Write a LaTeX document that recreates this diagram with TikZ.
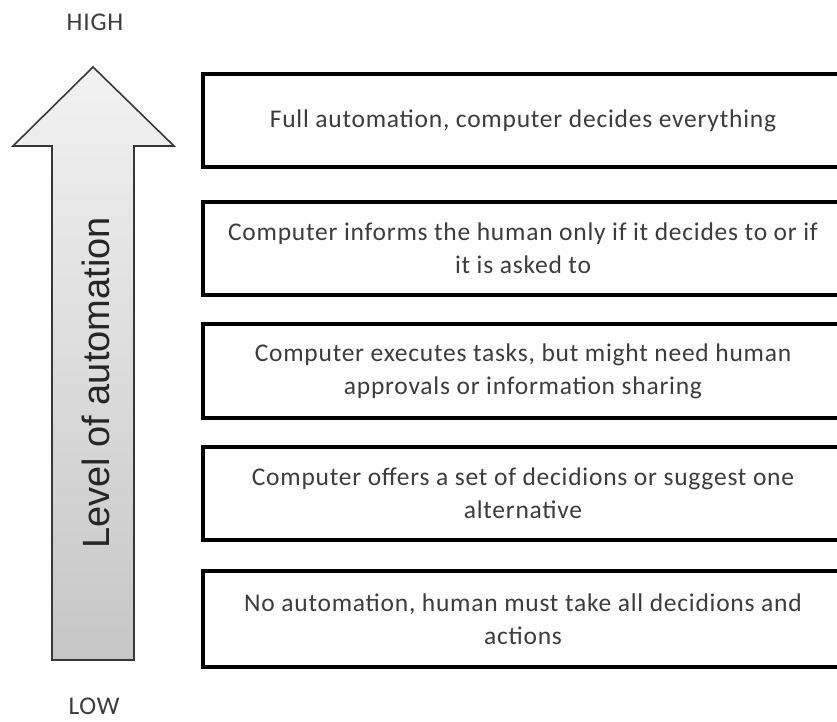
\documentclass[tikz,border=0pt]{standalone}
\usepackage{fontspec}
\setmainfont[LetterSpace=3]{Carlito}
\newfontfamily\arialfont{Liberation Sans}
\usetikzlibrary{positioning}
\definecolor{textgray}{RGB}{60,60,60}
\definecolor{arrowtop}{RGB}{242,242,242}
\definecolor{arrowbottom}{RGB}{198,198,198}
\definecolor{outline}{RGB}{55,55,55}

\begin{document}
\begin{tikzpicture}[x=1pt, y=-1pt,
      level/.style={rectangle, draw=black, line width=4pt, fill=white, minimum width=640pt, minimum height=93pt, anchor=north west, align=center, text=textgray, font=\fontsize{25.5}{33}\selectfont},
      tag/.style={text=textgray, font=\fontsize{25.5}{30}\selectfont}
   ]
      \useasboundingbox (0,0) rectangle (837,722);
      \clip (0,0) rectangle (837,722);

      % Big arrow, light at the top, darker at the bottom
      \shade[top color=arrowtop, bottom color=arrowbottom, draw=outline, line width=1.6pt, line join=miter]
         (93,67) -- (174,146) -- (134,146) -- (134,660) -- (52,660) -- (52,146) -- (13,146) -- cycle;
      \node (axis) [rotate=90, text=black!85, font=\arialfont\fontsize{38}{38}\selectfont] at (96,383) {Level of automation};

      % Ends of the scale
      \node (high) [tag] at (95,22)  {HIGH};
      \node (low)  [tag] at (94,706) {LOW};

      % Levels, top to bottom (right side runs off the page)
      \node (full)     [level] at (201,72) {Full automation, computer decides everything};
      \node (informs)  [level] at (201,200) {Computer informs the human only if it decides to or if\\it is asked to};
      \node (executes) [level, minimum height=94pt] at (201,322) {Computer executes tasks, but might need human\\approvals or information sharing};
      \node (offers)   [level] at (201,445) {Computer offers a set of decidions or suggest one\\alternative};
      \node (none)     [level, minimum height=96pt] at (201,569) {No automation, human must take all decidions and\\actions};
   \end{tikzpicture}
\end{document}
